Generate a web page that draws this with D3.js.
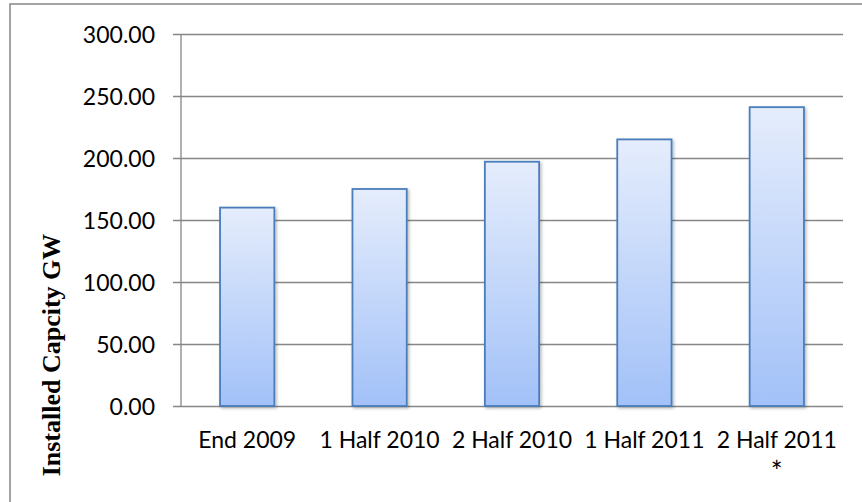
<!DOCTYPE html>
<html>
<head>
<meta charset="utf-8">
<script src="https://cdn.jsdelivr.net/npm/d3@7"></script>
<style>
  html, body { margin: 0; padding: 0; background: #fff; }
  svg { display: block; }
</style>
</head>
<body>
<svg id="chart" width="862" height="502"></svg>
<script>
// Installed capacity by period (GW)
const categories = ["End 2009", "1 Half 2010", "2 Half 2010", "1 Half 2011", "2 Half 2011"];
const footnotes = ["", "", "", "", "*"];
const capacity = [160, 175, 197, 215, 241];
const yTicks = [0, 50, 100, 150, 200, 250, 300];
const yTitle = "Installed Capcity GW";

const svg = d3.select("#chart");
const plot = { left: 181, right: 843, top: 34, bottom: 406 };
const labelFont = "Lato, 'Open Sans', sans-serif";

const defs = svg.append("defs");
const grad = defs.append("linearGradient")
  .attr("id", "barFill").attr("x1", 0).attr("y1", 0).attr("x2", 0).attr("y2", 1);
grad.append("stop").attr("offset", "0%").attr("stop-color", "#e5edfc");
grad.append("stop").attr("offset", "100%").attr("stop-color", "#a2c1f8");

const shadow = defs.append("filter").attr("id", "barShadow")
  .attr("x", "-20%").attr("y", "-10%").attr("width", "150%").attr("height", "130%");
shadow.append("feDropShadow")
  .attr("dx", 1.5).attr("dy", 1.5).attr("stdDeviation", 1.6)
  .attr("flood-color", "#000").attr("flood-opacity", 0.28);

// outer chart frame
svg.append("rect")
  .attr("x", 10).attr("y", 4).attr("width", 900).attr("height", 600)
  .attr("fill", "none").attr("stroke", "#868686").attr("stroke-width", 1.5);

const x = d3.scaleBand()
  .domain(categories)
  .range([plot.left, plot.right])
  .paddingInner(0.59)
  .paddingOuter(0.295);

const y = d3.scaleLinear()
  .domain([0, 300])
  .range([plot.bottom, plot.top]);

// horizontal gridlines with outward tick marks
const yAxis = d3.axisLeft(y)
  .tickValues(yTicks)
  .tickSize(-(plot.right - plot.left))
  .tickPadding(18)
  .tickFormat(d3.format(".2f"));

const gy = svg.append("g")
  .attr("transform", `translate(${plot.left},0)`)
  .call(yAxis);
gy.select(".domain").remove();
gy.selectAll(".tick line")
  .attr("x1", -8)
  .attr("stroke", "#868686").attr("stroke-width", 1.3);
gy.selectAll(".tick text")
  .attr("font-family", labelFont)
  .attr("font-size", 23)
  .attr("fill", "#000")
  .attr("x", -26)
  .attr("dy", "0.36em");

// vertical axis line
svg.append("line")
  .attr("x1", plot.left).attr("x2", plot.left)
  .attr("y1", plot.top).attr("y2", plot.bottom)
  .attr("stroke", "#868686").attr("stroke-width", 1.3);

// bars
svg.append("g").selectAll("rect")
  .data(capacity)
  .join("rect")
  .attr("x", (d, i) => x(categories[i]))
  .attr("y", d => y(d))
  .attr("width", x.bandwidth())
  .attr("height", d => y(0) - y(d))
  .attr("fill", "url(#barFill)")
  .attr("stroke", "#4a7ebb")
  .attr("stroke-width", 1.8)
  .attr("filter", "url(#barShadow)");

// category labels, with a footnote marker on a second line where needed
const labels = svg.append("g");
categories.forEach((c, i) => {
  const cx = x(c) + x.bandwidth() / 2;
  labels.append("text")
    .attr("x", cx)
    .attr("y", 448)
    .attr("text-anchor", "middle")
    .attr("font-family", labelFont)
    .attr("font-size", 23)
    .attr("fill", "#000")
    .text(c);
  if (footnotes[i]) {
    labels.append("text")
      .attr("x", cx)
      .attr("y", 482)
      .attr("text-anchor", "middle")
      .attr("font-family", labelFont)
      .attr("font-size", 28)
      .attr("fill", "#000")
      .text(footnotes[i]);
  }
});

// axis title
svg.append("text")
  .attr("transform", "translate(60,355) rotate(-90)")
  .attr("text-anchor", "middle")
  .attr("font-family", "'Liberation Serif', 'Times New Roman', serif")
  .attr("font-weight", "bold")
  .attr("font-size", 26)
  .attr("fill", "#000")
  .text(yTitle);
</script>
</body>
</html>
